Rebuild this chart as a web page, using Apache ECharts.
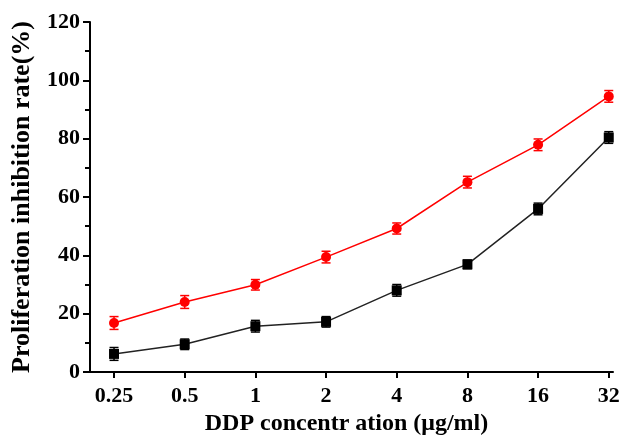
<!DOCTYPE html>
<html>
<head>
<meta charset="utf-8">
<title>DDP inhibition</title>
<script src="https://cdn.jsdelivr.net/npm/echarts@6/dist/echarts.min.js"></script>
<style>
  html, body { margin: 0; padding: 0; background: #fff; }
  #chart { width: 621px; height: 436px; }
</style>
</head>
<body>
<div id="chart"></div>
<script>
// concentrations (ug/ml), plotted evenly spaced
var doses = ['0.25', '0.5', '1', '2', '4', '8', '16', '32'];
var redValues = [16.8, 24.0, 29.9, 39.4, 49.2, 65.1, 77.9, 94.5];
var redErrors = [2.2, 2.2, 1.8, 2.0, 1.9, 2.0, 2.0, 2.0];
var blackValues = [6.2, 9.5, 15.7, 17.2, 28.0, 36.9, 55.9, 80.4];
var blackErrors = [2.2, 1.8, 2.0, 1.8, 2.0, 1.5, 2.0, 2.0];
var yTicks = [0, 20, 40, 60, 80, 100, 120];

function pts(vals) {
    return vals.map(function (v, i) { return [i, v]; });
}
function bars(vals, errs) {
    return vals.map(function (v, i) { return [i, v - errs[i], v + errs[i]]; });
}
function errorBar(color) {
    return function (params, api) {
        var lo = api.coord([api.value(0), api.value(1)]);
        var hi = api.coord([api.value(0), api.value(2)]);
        var w = 4.5;
        var style = { stroke: color, lineWidth: 1.5 };
        return {
            type: 'group',
            children: [
                { type: 'line', shape: { x1: lo[0], y1: lo[1], x2: hi[0], y2: hi[1] }, style: style },
                { type: 'line', shape: { x1: lo[0] - w, y1: lo[1], x2: lo[0] + w, y2: lo[1] }, style: style },
                { type: 'line', shape: { x1: hi[0] - w, y1: hi[1], x2: hi[0] + w, y2: hi[1] }, style: style }
            ]
        };
    };
}

var font = '"Liberation Serif", "Times New Roman", serif';
var chart = echarts.init(document.getElementById('chart'));
chart.setOption({
    animation: false,
    grid: { left: 90, right: 8, top: 22, bottom: 64, outerBoundsMode: 'none' },
    xAxis: {
        type: 'value',
        min: -0.34,
        max: 7.06,
        name: 'DDP concentr ation (μg/ml)',
        nameLocation: 'middle',
        nameGap: 35,
        nameTextStyle: { fontFamily: font, fontWeight: 'bold', fontSize: 24, color: '#000', padding: [0, 10, 0, 0] },
        axisLine: { onZero: false, lineStyle: { color: '#000', width: 2 } },
        axisTick: { customValues: [0, 1, 2, 3, 4, 5, 6, 7], length: 6, lineStyle: { color: '#000', width: 2 } },
        axisLabel: {
            customValues: [0, 1, 2, 3, 4, 5, 6, 7],
            formatter: function (v) { return doses[Math.round(v)]; },
            fontFamily: font, fontWeight: 'bold', fontSize: 22, color: '#000', margin: 13
        },
        splitLine: { show: false }
    },
    yAxis: {
        type: 'value',
        min: 0,
        max: 120,
        interval: 20,
        name: 'Proliferation inhibition rate(%)',
        nameLocation: 'middle',
        nameGap: 55,
        nameTextStyle: { fontFamily: font, fontWeight: 'bold', fontSize: 26, color: '#000' },
        axisLine: { show: true, onZero: false, lineStyle: { color: '#000', width: 2 } },
        axisTick: { show: true, length: 7, lineStyle: { color: '#000', width: 2 } },
        minorTick: { show: true, splitNumber: 2, length: 5, lineStyle: { color: '#000', width: 2 } },
        axisLabel: {
            formatter: function (v) { return yTicks.indexOf(v) >= 0 ? String(v) : ''; },
            fontFamily: font, fontWeight: 'bold', fontSize: 22, color: '#000', margin: 10
        },
        splitLine: { show: false }
    },
    series: [
        {
            type: 'line', data: pts(blackValues),
            symbol: 'rect', symbolSize: 10,
            lineStyle: { color: '#222', width: 1.5 },
            itemStyle: { color: '#000' }, z: 3
        },
        {
            type: 'custom', data: bars(blackValues, blackErrors),
            renderItem: errorBar('#000'), z: 4
        },
        {
            type: 'line', data: pts(redValues),
            symbol: 'circle', symbolSize: 10,
            lineStyle: { color: '#ff0000', width: 1.5 },
            itemStyle: { color: '#ff0000' }, z: 3
        },
        {
            type: 'custom', data: bars(redValues, redErrors),
            renderItem: errorBar('#ff0000'), z: 4
        }
    ]
});
</script>
</body>
</html>
